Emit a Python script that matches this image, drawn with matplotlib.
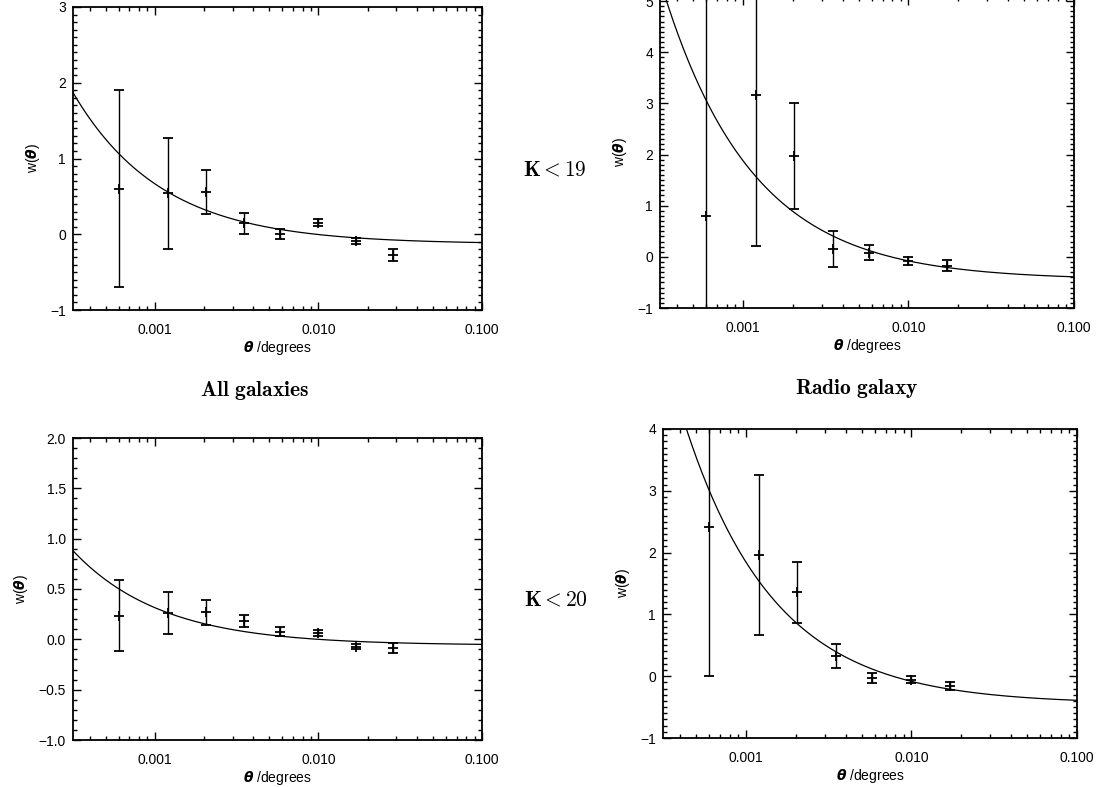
import numpy as np
import matplotlib.pyplot as plt
from matplotlib.ticker import FixedLocator, MultipleLocator, LogLocator, NullFormatter

plt.rcParams['font.family'] = ['Liberation Sans', 'DejaVu Sans']
plt.rcParams['axes.unicode_minus'] = True
# bold italic theta in the axis labels
plt.rcParams['mathtext.fontset'] = 'custom'
plt.rcParams['mathtext.rm'] = 'DejaVu Sans'
plt.rcParams['mathtext.it'] = 'DejaVu Sans:italic'
plt.rcParams['mathtext.bf'] = 'DejaVu Sans:italic:bold'

# angular bins (degrees)
theta8 = [0.0006, 0.0012, 0.00205, 0.0035, 0.0058, 0.0100, 0.0170, 0.0287]
theta7 = theta8[:7]

# K < 19, all galaxies
w_all19 = [0.60, 0.54, 0.556, 0.146, 0.0, 0.154, -0.088, -0.27]
e_all19 = [1.30, 0.73, 0.29, 0.14, 0.066, 0.05, 0.036, 0.08]
# K < 19, radio galaxy
w_rad19 = [0.79, 3.17, 1.97, 0.16, 0.08, -0.08, -0.17]
e_rad19 = [5.0, 2.95, 1.03, 0.35, 0.15, 0.08, 0.10]
# K < 20, all galaxies
w_all20 = [0.235, 0.26, 0.27, 0.18, 0.076, 0.06, -0.073, -0.09]
e_all20 = [0.355, 0.21, 0.125, 0.06, 0.043, 0.03, 0.025, 0.05]
# K < 20, radio galaxy
w_rad20 = [2.41, 1.96, 1.357, 0.323, -0.03, -0.054, -0.16]
e_rad20 = [2.41, 1.29, 0.49, 0.19, 0.086, 0.05, 0.065]

# power-law fits  w = A * theta^-delta - C
delta = 0.8
fit_all19 = (0.00317, 0.13)
fit_rad19 = (0.00929, 0.449)
fit_all20 = (0.001489, 0.0594)
fit_rad20 = (0.00915, 0.448)

W, H = 1111, 787
fig = plt.figure(figsize=(W / 100, H / 100), dpi=100)

def box(l, r, t, b):
    return [l / W, 1 - b / H, (r - l) / W, (b - t) / H]

panels = [
    (box(73, 482, 7, 310), theta8, w_all19, e_all19, fit_all19, (-1, 3), 1),
    (box(660, 1074, -3, 308), theta7, w_rad19, e_rad19, fit_rad19, (-1, 5.08), 1),
    (box(73, 482, 438, 740), theta8, w_all20, e_all20, fit_all20, (-1, 2), 0.5),
    (box(663, 1077, 429, 738), theta7, w_rad20, e_rad20, fit_rad20, (-1, 4), 1),
]

tcurve = np.geomspace(10 ** -3.5, 0.1, 400)

for rect, th, w, e, fit, ylim, step in panels:
    ax = fig.add_axes(rect)
    ax.plot(tcurve, fit[0] * tcurve ** (-delta) - fit[1], color='black', lw=0.9)
    ax.errorbar(th, w, yerr=e, fmt='+', color='black', ms=7, mew=1.3,
                elinewidth=1.0, capsize=3.5, capthick=1.0)
    ax.set_xscale('log')
    ax.set_xlim(10 ** -3.5, 0.1)
    ax.set_ylim(*ylim)
    ax.xaxis.set_major_locator(FixedLocator([0.001, 0.01, 0.1]))
    ax.set_xticklabels(['0.001', '0.010', '0.100'])
    ax.xaxis.set_minor_locator(LogLocator(base=10, subs=np.arange(2, 10)))
    ax.xaxis.set_minor_formatter(NullFormatter())
    ax.yaxis.set_major_locator(MultipleLocator(step))
    ax.yaxis.set_minor_locator(MultipleLocator(0.1))
    ax.tick_params(which='both', direction='in', top=True, right=True,
                   labelsize=10, width=1.0)
    ax.tick_params(axis='x', pad=9)
    ax.tick_params(axis='y', pad=5)
    ax.tick_params(which='major', length=6)
    ax.tick_params(which='minor', length=3)
    for s in ax.spines.values():
        s.set_linewidth(1.3)
    ax.set_xlabel(r'$\mathbf{\theta}$ /degrees', fontsize=10, labelpad=2)
    ax.set_ylabel(r'w($\mathbf{\theta}$)', fontsize=10, labelpad=6)

fig.text(555 / W, 1 - 170 / H, r'$\mathbf{K < 19}$', math_fontfamily='cm',
         fontsize=15.5, ha='center', va='center')
fig.text(556 / W, 1 - 600 / H, r'$\mathbf{K < 20}$', math_fontfamily='cm',
         fontsize=15.5, ha='center', va='center')
fig.text(255 / W, 1 - 390 / H, r'$\mathbf{All\ galaxies}$', math_fontfamily='cm',
         fontsize=15.5, ha='center', va='center')
fig.text(857 / W, 1 - 388 / H, r'$\mathbf{Radio\ galaxy}$', math_fontfamily='cm',
         fontsize=15.5, ha='center', va='center')

fig.savefig('out.png', dpi=100)
